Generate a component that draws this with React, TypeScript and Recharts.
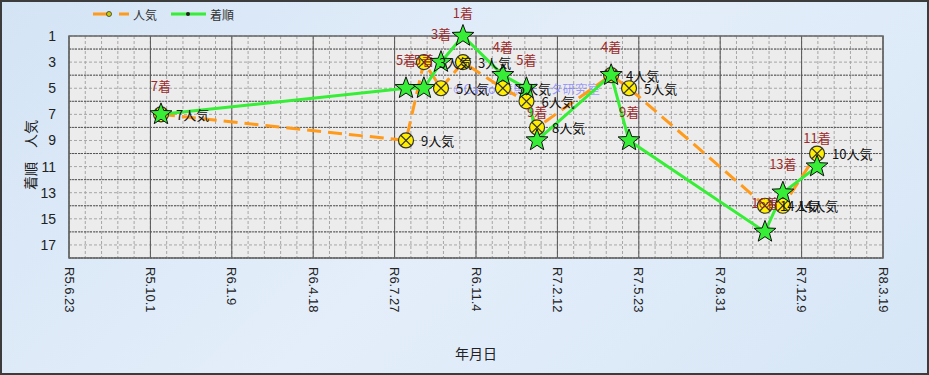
import React from "react";
import {
  ComposedChart,
  Line,
  XAxis,
  YAxis,
  CartesianGrid,
  LabelList,
  ReferenceArea,
  Customized,
} from "recharts";

// race dates, finishing position (着順) and popularity (人気)
const raceDates = [
  "2023-10-14",
  "2024-08-10",
  "2024-09-01",
  "2024-09-22",
  "2024-10-19",
  "2024-12-07",
  "2025-01-05",
  "2025-01-18",
  "2025-04-19",
  "2025-05-11",
  "2025-10-25",
  "2025-11-16",
  "2025-12-28",
];
const finishOrder = [7, 5, 5, 3, 1, 4, 5, 9, 4, 9, 16, 13, 11];
const popularity = [7, 9, 3, 5, 3, 5, 6, 8, 4, 5, 14, 14, 10];

const xTickDates = [
  "2023-06-23",
  "2023-10-01",
  "2024-01-09",
  "2024-04-18",
  "2024-07-27",
  "2024-11-04",
  "2025-02-12",
  "2025-05-23",
  "2025-08-31",
  "2025-12-09",
  "2026-03-19",
];
const yTicks = [1, 3, 5, 7, 9, 11, 13, 15, 17];

const FONT = "'Noto Sans CJK JP', 'Noto Sans', sans-serif";
const ORANGE = "#ff9a1a";
const GREEN = "#35ee35";
const DAY = 86400000;

const toTs = (s: string) => Date.parse(s + "T00:00:00Z");
const reiwa = (t: number) => {
  const d = new Date(t);
  return `R${d.getUTCFullYear() - 2018}.${d.getUTCMonth() + 1}.${d.getUTCDate()}`;
};

const data = raceDates.map((d, i) => ({
  t: toTs(d),
  finish: finishOrder[i],
  pop: popularity[i],
}));

const xTicks = xTickDates.map(toTs);
const xMin = xTicks[0];
const xMax = xTicks[xTicks.length - 1];

// grid lines: minor every 20 days / 1 rank, major at ticks / even ranks
const minorX: number[] = [];
for (let t = xMin; t <= xMax; t += 20 * DAY) minorX.push(t);
const minorY = Array.from({ length: 18 }, (_, i) => i + 1);
const majorY = [2, 4, 6, 8, 10, 12, 14, 16, 18];

const starPoints = (cx: number, cy: number, R: number, r: number) => {
  const pts: string[] = [];
  for (let i = 0; i < 10; i++) {
    const a = ((-90 + i * 36) * Math.PI) / 180;
    const rad = i % 2 ? r : R;
    pts.push(`${cx + rad * Math.cos(a)},${cy + rad * Math.sin(a)}`);
  }
  return pts.join(" ");
};

const StarDot = (p: any) => {
  if (p.cx == null || p.cy == null) return <g key={`s${p.index}`} />;
  return (
    <polygon
      key={`s${p.index}`}
      points={starPoints(p.cx, p.cy, 11.5, 4.8)}
      fill={GREEN}
      stroke="#111"
      strokeWidth={1}
    />
  );
};

const CircleDot = (p: any) => {
  if (p.cx == null || p.cy == null) return <g key={`c${p.index}`} />;
  const d = 5.2;
  return (
    <g key={`c${p.index}`}>
      <circle cx={p.cx} cy={p.cy} r={7.5} fill="#ffee00" stroke="#333" strokeWidth={1.2} />
      <line x1={p.cx - d} y1={p.cy - d} x2={p.cx + d} y2={p.cy + d} stroke="#333" strokeWidth={1.2} />
      <line x1={p.cx - d} y1={p.cy + d} x2={p.cx + d} y2={p.cy - d} stroke="#333" strokeWidth={1.2} />
    </g>
  );
};

const PopLabel = (p: any) => (
  <text
    x={p.x + 15}
    y={p.y}
    dominantBaseline="central"
    fontSize={13}
    fill="#111"
    fontFamily={FONT}
  >
    {`${p.value}人気`}
  </text>
);

const FinishLabel = (p: any) => (
  <text
    x={p.x}
    y={Math.max(p.y - 29, 12)}
    textAnchor="middle"
    dominantBaseline="central"
    fontSize={13}
    fill="#9b2a2a"
    fontFamily={FONT}
  >
    {`${p.value}着`}
  </text>
);

const XTick = (p: any) => (
  <text
    transform={`translate(${p.x},${p.y}) rotate(90)`}
    textAnchor="start"
    dominantBaseline="central"
    fontSize={13}
    fill="#222"
    fontFamily="'Liberation Sans', Arial, sans-serif"
  >
    {reiwa(p.payload.value)}
  </text>
);

const YLabel = () => (
  <text
    transform="translate(30,155) rotate(-90)"
    textAnchor="middle"
    dominantBaseline="central"
    fontSize={14}
    fill="#222"
    fontFamily={FONT}
  >
    着順　人気
  </text>
);

const Extras = () => (
  <g>
    <text x={453} y={88} dominantBaseline="central" fontSize={12.5} fill="#7f7fff" fillOpacity={0.75} fontFamily={FONT}>
      ©Carrot競馬データ研究室
    </text>
    <line x1={93} y1={14} x2={129} y2={14} stroke={ORANGE} strokeWidth={3} strokeDasharray="17 9" />
    <circle cx={109} cy={14} r={2.5} fill="#cccc00" stroke="#333" strokeWidth={0.8} />
    <text x={133} y={14} dominantBaseline="central" fontSize={12} fill="#333" fontFamily={FONT}>
      人気
    </text>
    <line x1={171} y1={14} x2={206} y2={14} stroke={GREEN} strokeWidth={3} />
    <circle cx={188} cy={14} r={2} fill="#222" />
    <text x={210} y={14} dominantBaseline="central" fontSize={12} fill="#333" fontFamily={FONT}>
      着順
    </text>
  </g>
);

export default function App() {
  return (
    <div
      style={{
        position: "fixed",
        left: 0,
        top: 0,
        width: 929,
        height: 375,
        background: "linear-gradient(135deg, #d4e4f5 0%, #e4eefa 50%, #d6e6f6 100%)",
      }}
    >
      <ComposedChart
        width={929}
        height={375}
        data={data}
        margin={{ top: 36, right: 46, bottom: 0, left: 0 }}
      >
        <XAxis
          dataKey="t"
          type="number"
          domain={[xMin, xMax]}
          ticks={xTicks}
          interval={0}
          tick={<XTick />}
          tickLine={false}
          tickSize={0}
          tickMargin={9}
          axisLine={false}
          height={117}
          label={{
            value: "年月日",
            position: "insideBottom",
            offset: 16,
            fontSize: 14,
            fill: "#222",
            fontFamily: FONT,
          }}
        />
        <YAxis
          type="number"
          domain={[1, 18]}
          reversed
          ticks={yTicks}
          interval={0}
          width={69}
          tickLine={false}
          tickSize={0}
          tickMargin={13}
          axisLine={false}
          tick={{ fontSize: 14, fill: "#222", fontFamily: "'Liberation Sans', Arial, sans-serif" }}
          label={<YLabel />}
        />
        <CartesianGrid
          fill="#ececec"
          fillOpacity={1}
          horizontalValues={minorY}
          verticalValues={minorX}
          stroke="#a6a6a6"
          strokeDasharray="3 2"
        />
        <CartesianGrid horizontalValues={majorY} vertical={false} stroke="#555" strokeDasharray="2 1" />
        <CartesianGrid verticalValues={xTicks} horizontal={false} stroke="#555" />
        <ReferenceArea
          x1={xMin}
          x2={xMax}
          y1={1}
          y2={18}
          fill="none"
          fillOpacity={0}
          stroke="#666"
          strokeWidth={1.5}
        />
        <Customized component={Extras} />
        <Line
          dataKey="pop"
          stroke={ORANGE}
          strokeWidth={3}
          strokeDasharray="14 7"
          dot={CircleDot}
          activeDot={false}
          isAnimationActive={false}
        >
          <LabelList dataKey="pop" content={PopLabel} />
        </Line>
        <Line
          dataKey="finish"
          stroke={GREEN}
          strokeWidth={3}
          dot={StarDot}
          activeDot={false}
          isAnimationActive={false}
        >
          <LabelList dataKey="finish" content={FinishLabel} />
        </Line>
      </ComposedChart>
      <div
        style={{
          position: "absolute",
          inset: 0,
          border: "2px solid #3c3c3c",
          pointerEvents: "none",
        }}
      />
    </div>
  );
}
